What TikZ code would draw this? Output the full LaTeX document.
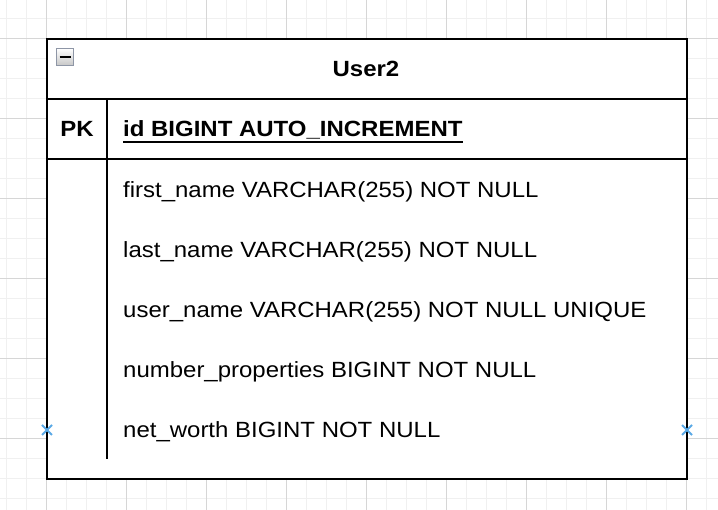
\documentclass[tikz,border=0pt]{standalone}
\usepackage{fontspec}
\setmainfont{Liberation Sans}[FakeStretch=1.09]
\definecolor{markerblue}{HTML}{5AA9E6}
\definecolor{btnborder}{HTML}{8E96A6}
\begin{document}
\begin{tikzpicture}[x=1pt,y=-1pt,
  minorgrid/.style={draw=black!6,line width=1pt},
  majorgrid/.style={draw=black!16,line width=1pt},
  frame/.style={draw=black,line width=2pt},
  field/.style={anchor=base west,inner sep=0pt,font=\fontsize{22}{26}\selectfont},
  keyfield/.style={inner sep=0pt,font=\fontsize{22}{26}\selectfont\bfseries},
  marker/.style={draw=markerblue,line width=2pt}]
\useasboundingbox (0,0) rectangle (718,510);
\fill[white] (0,0) rectangle (718,510);
% background grid
\foreach \x in {6.7,26.7,...,718} \draw[minorgrid] (\x,0) -- (\x,510);
\foreach \y in {18.3,38.3,...,510} \draw[minorgrid] (0,\y) -- (718,\y);
\foreach \x in {46.7,126.7,...,718} \draw[majorgrid] (\x,0) -- (\x,510);
\foreach \y in {38.3,118.3,...,510} \draw[majorgrid] (0,\y) -- (718,\y);
% table frame
\fill[white] (47,39) rectangle (687,479);
\coordinate (tl) at (47,39);
\coordinate (br) at (687,479);
\coordinate (h1l) at (47,99);
\coordinate (h1r) at (687,99);
\coordinate (h2l) at (47,159);
\coordinate (h2r) at (687,159);
\coordinate (vt) at (107,99);
\coordinate (vb) at (107,459);
\draw[frame] (tl) rectangle (br);
\draw[frame] (h1l) -- (h1r);
\draw[frame] (h2l) -- (h2r);
\draw[frame] (vt) -- (vb);
% collapse button
\shade[top color=white,bottom color=black!22,draw=btnborder,line width=1.5pt] (56.5,48.5) rectangle (73.5,65.5);
\draw[black,line width=2pt] (59.5,57) -- (70.5,57);
% title and key row
\node[keyfield,anchor=base] (title) at (366,77) {User2};
\node[keyfield,anchor=base] (pk) at (77,137) {PK};
\node[keyfield,anchor=base west] (id) at (123,137) {id BIGINT AUTO\_INCREMENT};
\draw[line width=2pt] ([yshift=-4.7pt]id.base west) -- ([yshift=-4.7pt]id.base east);
% attribute rows
\node[field] (f1) at (123,197.5) {first\_name VARCHAR(255) NOT NULL};
\node[field] (f2) at (123,257.5) {last\_name VARCHAR(255) NOT NULL};
\node[field] (f3) at (123,317.5) {user\_name VARCHAR(255) NOT NULL UNIQUE};
\node[field] (f4) at (123,377.5) {number\_properties BIGINT NOT NULL};
\node[field] (f5) at (123,437.5) {net\_worth BIGINT NOT NULL};
% connection markers
\coordinate (ml) at (47,430);
\coordinate (mr) at (687,430);
\foreach \m in {ml,mr} {
  \draw[marker] ([shift={(-5,-5)}]\m) -- ([shift={(5,5)}]\m);
  \draw[marker] ([shift={(-5,5)}]\m) -- ([shift={(5,-5)}]\m);
}
\end{tikzpicture}
\end{document}
